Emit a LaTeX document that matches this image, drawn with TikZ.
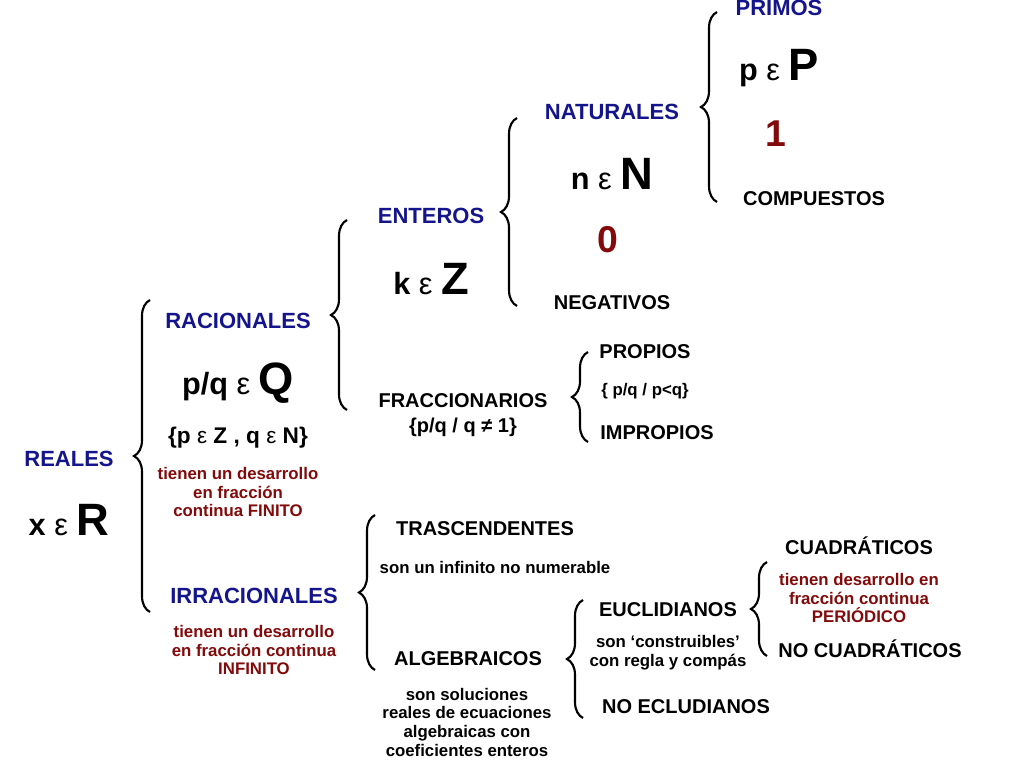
\documentclass[tikz,border=0pt]{standalone}
\usepackage{fontspec}
\setmainfont{Liberation Sans}
\usetikzlibrary{decorations.pathreplacing}
\definecolor{hblue}{RGB}{20,20,140}
\definecolor{dred}{RGB}{130,10,10}
\begin{document}
\begin{tikzpicture}[x=0.75pt,y=-0.75pt,
 hd/.style={font=\bfseries\fontsize{16.5}{18}\selectfont,text=hblue},
 sm/.style={font=\bfseries\fontsize{15}{17}\selectfont,text=black},
 rd/.style={font=\bfseries\fontsize{12.6}{14}\selectfont,text=dred,align=center},
 bk/.style={font=\bfseries\fontsize{12.6}{14}\selectfont,align=center},
 bg/.style={font=\bfseries\fontsize{23}{26}\selectfont},
 num/.style={font=\bfseries\fontsize{28}{30}\selectfont,text=dred},
 br/.style={draw,line width=1.6pt,decorate,decoration={brace,amplitude=12pt,aspect=0.5}}]
\useasboundingbox (0,0) rectangle (1024,768);
\newcommand{\BIG}[1]{{\fontsize{34}{36}\selectfont #1}}
\newcommand{\ep}{{\mdseries\char"03B5}}
% braces
\draw[br] (150,612) -- (150,300);
\draw[br] (347,410) -- (347,220);
\draw[br] (517,306) -- (517,118);
\draw[br] (717,202) -- (717,12);
\draw[br] (588,442) -- (588,352);
\draw[br] (375,670) -- (375,515);
\draw[br] (583,718) -- (583,600);
\draw[br] (767,656) -- (767,562);
% REALES
\node[hd] (reales) at (69,459) {REALES};
\node[bg] (x) at (69,520) {x \ep\ \BIG{R}};
% RACIONALES
\node[hd] (rac) at (238,321) {RACIONALES};
\node[bg] (pq) at (238,383) {p/q \ep\ \BIG{Q}};
\node[font=\bfseries\fontsize{17}{19}\selectfont] (pqset) at (238,438) {\{p \ep\ Z , q \ep\ N\}};
\node[rd] (fin) at (238,492) {tienen un desarrollo\\en fracción\\continua FINITO};
% IRRACIONALES
\node[hd] (irr) at (254,596) {IRRACIONALES};
\node[rd] (inf) at (254,650) {tienen un desarrollo\\en fracción continua\\INFINITO};
% ENTEROS
\node[hd] (ent) at (431,216) {ENTEROS};
\node[bg] (kz) at (431,279) {k \ep\ \BIG{Z}};
\node[sm] (frac) at (463,401) {FRACCIONARIOS};
\node[sm] (fracs) at (463,427) {\{p/q / q ≠ 1\}};
% NATURALES
\node[hd] (nat) at (612,112) {NATURALES};
\node[bg] (nn) at (612,174) {n \ep\ \BIG{N}};
\node[num] (cero) at (608,240) {0};
\node[sm] (neg) at (612,303) {NEGATIVOS};
% PRIMOS
\node[hd] (prim) at (779,8) {PRIMOS};
\node[bg] (pp) at (779,68) {p \ep\ \BIG{P}};
\node[num] (uno) at (776,134) {1};
\node[sm] (comp) at (814,199) {COMPUESTOS};
% PROPIOS
\node[sm] (prop) at (645,352) {PROPIOS};
\node[bk] (props) at (645,391) {\{ p/q / p<q\}};
\node[sm] (impr) at (657,433) {IMPROPIOS};
% TRASCENDENTES
\node[sm] (tras) at (485,529) {TRASCENDENTES};
\node[bk] (trass) at (495,567) {son un infinito no numerable};
\node[sm] (alg) at (468,659) {ALGEBRAICOS};
\node[bk] (algs) at (467,722) {son soluciones\\reales de ecuaciones\\algebraicas con\\coeficientes enteros};
% EUCLIDIANOS
\node[sm] (euc) at (668,610) {EUCLIDIANOS};
\node[bk] (eucs) at (668,653) {son ‘construibles’\\con regla y compás};
\node[sm] (neuc) at (686,707) {NO ECLUDIANOS};
% CUADRATICOS
\node[sm] (cuad) at (859,546) {CUADRÁTICOS};
\node[rd] (cuads) at (859,598) {tienen desarrollo en\\fracción continua\\PERIÓDICO};
\node[sm] (ncuad) at (870,649) {NO CUADRÁTICOS};
\end{tikzpicture}
\end{document}
